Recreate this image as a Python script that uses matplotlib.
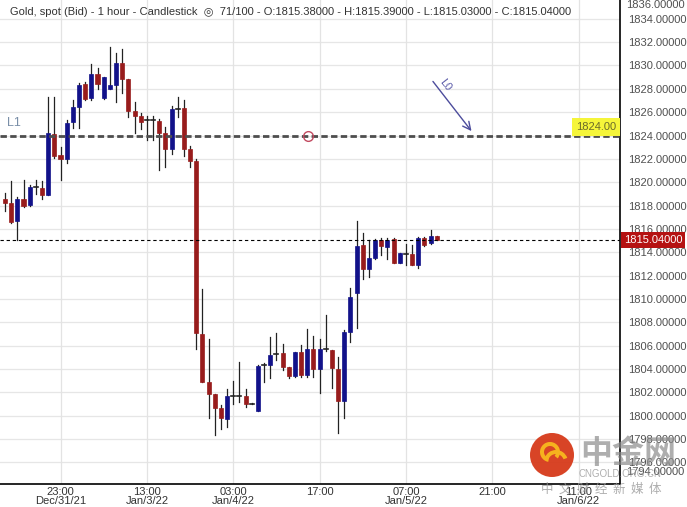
import matplotlib
matplotlib.use("Agg")
import matplotlib.pyplot as plt
from matplotlib.patches import Rectangle, Circle, Wedge
from matplotlib.transforms import blended_transform_factory

plt.rcParams['font.family'] = ['Liberation Sans', 'DejaVu Sans']

# hourly candles (bar index = hour slot)
opens = [1818.53, 1818.19, 1816.67, 1818.53, 1818.04, 1819.60, 1819.47, 1818.90, 1824.10, 1822.33,
         1821.96, 1825.19, 1826.41, 1828.39, 1827.19, 1829.27, 1827.19, 1827.96, 1828.33, 1830.19,
         1828.81, 1826.13, 1825.67, 1825.33, 1825.30, 1825.27, 1824.19, 1822.84, 1826.30, 1826.33,
         1822.84, 1821.84, 1806.96, 1802.85, 1801.85, 1800.68, 1799.69, 1801.68, 1801.70, 1801.68,
         1801.00, 1800.42, 1804.30, 1804.30, 1805.30, 1805.33, 1804.19, 1803.42, 1805.48, 1803.48,
         1805.68, 1803.96, 1805.68, 1805.62, 1803.96, 1801.28, 1807.19, 1810.48, 1814.62, 1812.53,
         1813.48, 1815.05, 1814.42, 1815.10, 1813.10, 1813.85, 1813.88, 1812.90, 1815.19, 1814.76,
         1815.38]
highs = [1819.04, 1820.07, 1818.76, 1820.19, 1819.73, 1820.19, 1820.07, 1827.27, 1827.27, 1823.04,
         1825.33, 1827.04, 1828.53, 1828.60, 1830.13, 1829.76, 1829.05, 1831.61, 1831.04, 1831.41,
         1828.81, 1826.90, 1825.90, 1825.67, 1825.67, 1825.39, 1824.76, 1826.53, 1827.33, 1827.04,
         1823.13, 1821.96, 1810.82, 1806.53, 1801.85, 1800.91, 1802.25, 1802.96, 1804.62, 1802.25,
         1801.05, 1804.30, 1804.50, 1806.71, 1807.05, 1806.14, 1804.19, 1805.48, 1806.05, 1807.39,
         1806.82, 1806.60, 1808.62, 1805.62, 1805.05, 1807.33, 1810.90, 1816.70, 1815.62, 1815.05,
         1815.10, 1815.19, 1815.19, 1815.19, 1813.90, 1814.70, 1814.62, 1815.28, 1815.28, 1815.90,
         1815.39]
lows = [1817.56, 1816.50, 1815.04, 1817.90, 1817.96, 1819.00, 1818.53, 1818.90, 1822.04, 1820.19,
        1821.61, 1824.61, 1824.61, 1827.04, 1827.04, 1827.96, 1827.10, 1827.96, 1826.90, 1827.61,
        1825.56, 1824.19, 1824.56, 1823.61, 1823.61, 1821.04, 1821.33, 1822.41, 1825.56, 1822.24,
        1821.33, 1805.68, 1802.85, 1799.77, 1798.34, 1798.82, 1799.05, 1801.00, 1801.20, 1800.70,
        1801.00, 1800.42, 1802.90, 1803.20, 1804.80, 1803.90, 1803.19, 1803.30, 1803.35, 1803.30,
        1803.30, 1801.91, 1805.50, 1802.39, 1798.48, 1799.77, 1806.28, 1807.53, 1811.68, 1811.85,
        1813.40, 1813.76, 1813.40, 1813.10, 1813.10, 1812.90, 1812.90, 1812.62, 1814.55, 1814.70,
        1815.03]
closes = [1818.19, 1816.61, 1818.53, 1817.99, 1819.61, 1819.62, 1818.90, 1824.24, 1822.24, 1821.96,
          1825.10, 1826.41, 1828.33, 1827.10, 1829.24, 1828.39, 1828.99, 1828.33, 1830.24, 1828.81,
          1826.13, 1825.67, 1825.19, 1825.35, 1825.33, 1824.19, 1822.84, 1826.27, 1826.33, 1822.84,
          1821.84, 1807.10, 1802.85, 1801.85, 1800.68, 1799.77, 1801.68, 1801.70, 1801.68, 1801.00,
          1801.05, 1804.25, 1804.32, 1805.19, 1805.33, 1804.19, 1803.42, 1805.48, 1803.48, 1805.68,
          1803.96, 1805.68, 1805.70, 1804.05, 1801.28, 1807.19, 1810.19, 1814.53, 1812.53, 1813.48,
          1815.05, 1814.53, 1815.05, 1813.10, 1813.90, 1813.88, 1812.90, 1815.19, 1814.62, 1815.39,
          1815.04]

tick_pos = [9, 23, 37, 51, 65, 79, 93]
tick_labels = ["23:00\nDec/31/21", "13:00\nJan/3/22", "03:00\nJan/4/22", "17:00",
               "07:00\nJan/5/22", "21:00", "11:00\nJan/6/22"]
price_ticks = list(range(1796, 1835, 2))
last_price = 1815.04
level_l1 = 1824.00
title = ("Gold, spot (Bid) - 1 hour - Candlestick  \u25ce  71/100 - O:1815.38000 - "
         "H:1815.39000 - L:1815.03000 - C:1815.04000")

W, H = 687, 507
fig = plt.figure(figsize=(W / 100, H / 100), dpi=100)
fig.patch.set_facecolor('white')
ax = fig.add_axes([0.0, 23 / H, 620 / W, 484 / H])

up_col = '#12128a'
dn_col = '#981c1c'
body_w = 0.66
for i, (o, h, l, c) in enumerate(zip(opens, highs, lows, closes)):
    ax.plot([i, i], [l, h], color='#222222', lw=0.9, zorder=3)
    if abs(c - o) < 0.08:
        ax.plot([i - body_w / 2, i + body_w / 2], [o, o], color='#222222', lw=1.2, zorder=4)
        continue
    col = up_col if c > o else dn_col
    ax.add_patch(Rectangle((i - body_w / 2, min(o, c)), body_w, abs(c - o),
                           facecolor=col, edgecolor=col, lw=0.5, zorder=4))

ax.set_xlim(-0.81, 99.7)
ax.set_ylim(1794.14, 1835.61)

# grid
for p in range(1794, 1837, 2):
    ax.axhline(p, color='#e6e6e6', lw=0.9, zorder=0)
for t in tick_pos:
    ax.axvline(t, color='#e3e3e3', lw=0.9, zorder=0)

ax.set_xticks(tick_pos)
ax.set_xticklabels(tick_labels, fontsize=8, color='#333333', linespacing=0.95)
ax.set_yticks(price_ticks)
ax.set_yticklabels([f"{p}.00000" for p in price_ticks], fontsize=8, color='#505050')
ax.yaxis.tick_right()
ax.tick_params(axis='both', length=0)
ax.tick_params(axis='y', pad=6)
ax.tick_params(axis='x', pad=2)
for s in ['top', 'left']:
    ax.spines[s].set_visible(False)
for s in ['bottom', 'right']:
    ax.spines[s].set_color('black')
    ax.spines[s].set_linewidth(1.2)

# edge price labels squeezed inside the axis range
tr = blended_transform_factory(ax.transAxes, ax.transAxes)
ax.text(1.0 + 6 / 620, 1 - 5 / 484, "1836.00000", transform=tr, fontsize=8,
        color='#505050', va='center', ha='left')
ax.text(1.0 + 6 / 620, 12 / 484, "1794.00000", transform=tr, fontsize=8,
        color='#505050', va='center', ha='left')

# L1 level
ax.axhline(level_l1, color='#4e4e4e', lw=2.0, dashes=(2.3, 1.2), zorder=5)
ax.text(1.4, level_l1 + 0.55, "L1", color='#7a8fa8', fontsize=9, ha='center', va='bottom')
ax.plot([49.1], [level_l1], marker='o', ms=7, mfc='none', mec='#c24a60', mew=1.0, zorder=6)
by = blended_transform_factory(ax.transAxes, ax.transData)
ax.text(0.994, level_l1 + 0.3, "1824.00", transform=by, fontsize=8, color='#6a6a2a',
        ha='right', va='bottom', zorder=7,
        bbox=dict(boxstyle='square,pad=0.35', facecolor='#f5f53a', edgecolor='none'))

# last price
ax.axhline(last_price, color='black', lw=0.8, linestyle=(0, (3, 2.5)), zorder=5)
ax.text(1.0 + 4 / 620, last_price, "1815.04000", transform=by, fontsize=8, color='white',
        ha='left', va='center', clip_on=False, zorder=7,
        bbox=dict(boxstyle='square,pad=0.25', facecolor='#b51212', edgecolor='none'))

# L0 arrow
ax.annotate("", xy=(75.9, 1824.19), xytext=(69.1, 1828.82),
            arrowprops=dict(arrowstyle='->', color='#4c4c9c', lw=1.0, mutation_scale=14),
            zorder=6)
ax.text(71.4, 1828.35, "L0", rotation=-52, color='#5a5aa8', fontsize=8,
        ha='center', va='center')

# header
fig.text(10 / W, 1 - 12 / H, title, fontsize=8, color='#333333', ha='left', va='center')

# watermark
wax = fig.add_axes([0, 0, 1, 1], facecolor='none')
wax.set_xlim(0, W)
wax.set_ylim(H, 0)
wax.axis('off')
wax.add_patch(Circle((552, 455), 22, facecolor='#d63a1a', edgecolor='none', alpha=0.95))
wax.add_patch(Wedge((550, 452), 10, 100, 400, width=4, facecolor='#f6b21e', edgecolor='none'))
wax.add_patch(Wedge((556, 462), 12, 200, 340, width=4, facecolor='#f6b21e', edgecolor='none'))
wax.text(628, 454, "中金网", fontsize=23, color='#8c8c8c', alpha=0.7, ha='center', va='center',
         family=['Noto Sans CJK SC', 'DejaVu Sans'], fontweight='bold')
wax.text(620, 474, "CNGOLD.ORG.CN", fontsize=7, color='#9a9a9a', alpha=0.8, ha='center',
         va='center')
wax.text(601, 489, "中  文  财  经  新  媒  体", fontsize=9, color='#9a9a9a', alpha=0.8,
         ha='center', va='center', family=['Noto Sans CJK SC', 'DejaVu Sans'])

fig.savefig("out.png", dpi=100)
